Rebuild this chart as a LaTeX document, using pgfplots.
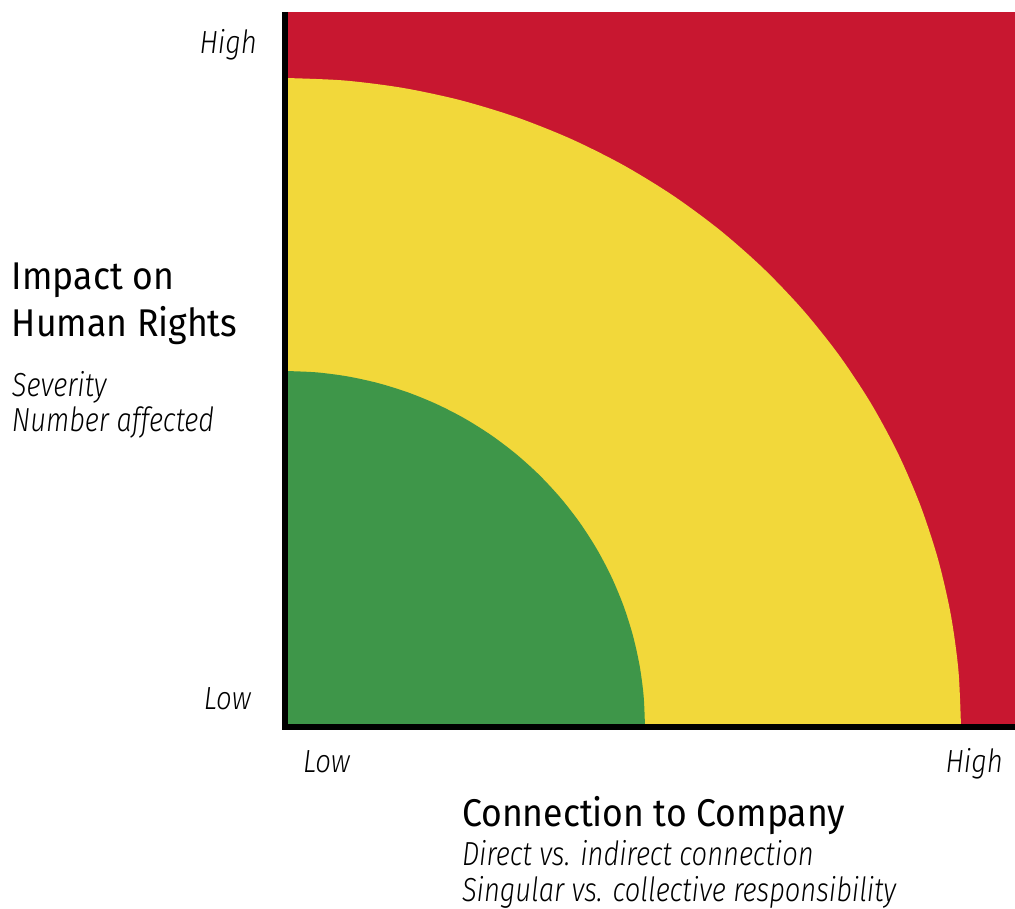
\documentclass[border=0pt]{standalone}
\usepackage{pgfplots}
\pgfplotsset{compat=1.18}
\usepackage{fontspec}
\setmainfont{Fira Sans}[FakeStretch=0.92]
\newfontfamily\itf{Fira Sans Light Italic}[FakeStretch=0.82]
\newfontfamily\itt{Fira Sans Light Italic}[FakeStretch=0.86]
\definecolor{rred}{RGB}{200,23,48}
\definecolor{ryel}{RGB}{242,216,58}
\definecolor{rgrn}{RGB}{62,150,73}
\begin{document}
\begin{tikzpicture}[x=0.75pt,y=0.75pt]
\useasboundingbox (0,0) rectangle (1015,909);
\begin{axis}[
  at={(285,182)}, anchor=origin,
  scale only axis, width=547.5pt, height=536.25pt,
  xmin=0, xmax=730, ymin=0, ymax=715,
  axis lines=none, xtick=\empty, ytick=\empty,
  clip=false,
]
\addplot[fill=rred, draw=none] coordinates {(0,0) (730,0) (730,715) (0,715)} -- cycle;
\addplot[fill=ryel, draw=none, smooth] coordinates {
(676,0) (673.42,56.57) (665.73,112.70) (652.97,167.97) (635.23,221.97) (612.67,274.28)
(585.44,324.50) (553.75,372.25) (517.84,417.17) (478.01,458.91) (434.53,497.16)
(387.74,531.63) (338.00,562.05) (285.69,588.20) (231.21,609.86) (174.96,626.89)
(117.39,639.14) (58.92,646.53) (0,649)} -- (axis cs:0,0) -- cycle;
\addplot[fill=rgrn, draw=none, smooth] coordinates {
(360,0) (358.63,31.03) (354.53,61.82) (347.73,92.14) (338.29,121.76) (326.27,150.45)
(311.77,178.00) (294.89,204.19) (275.77,228.83) (254.56,251.73) (231.40,272.71)
(206.49,291.62) (180.00,308.31) (152.14,322.65) (123.13,334.53) (93.18,343.87)
(62.51,350.59) (31.38,354.64) (0,356)} -- (axis cs:0,0) -- cycle;
\draw[line width=4.5pt, line join=miter] (axis cs:0,715) -- (axis cs:0,0) -- (axis cs:730,0);
\end{axis}
\begin{scope}[every node/.style={inner sep=0pt, outer sep=0pt}]
\node[anchor=base east, font=\fontsize{24}{26}\selectfont\itt] at (257,855) {High};
\node[anchor=base east, font=\fontsize{24}{26}\selectfont\itt] at (251,199) {Low};
\node[anchor=base west, font=\fontsize{24}{26}\selectfont\itt] at (303,136) {Low};
\node[anchor=base east, font=\fontsize{24}{26}\selectfont\itt] at (1003,136) {High};
\node[anchor=base west, font=\fontsize{29}{34}\selectfont] at (12,619) {Impact on};
\node[anchor=base west, font=\fontsize{29}{34}\selectfont] at (12,572) {Human Rights};
\node[anchor=base west, font=\fontsize{25}{28}\selectfont\itf] at (12,512) {Severity};
\node[anchor=base west, font=\fontsize{25}{28}\selectfont\itf] at (12,477) {Number affected};
\node[anchor=base west, font=\fontsize{29}{34}\selectfont] at (462,82) {Connection to Company};
\node[anchor=base west, font=\fontsize{25}{28}\selectfont\itf] at (462,43) {Direct vs. indirect connection};
\node[anchor=base west, font=\fontsize{25}{28}\selectfont\itf] at (462,7) {Singular vs. collective responsibility};
\end{scope}
\end{tikzpicture}
\end{document}
